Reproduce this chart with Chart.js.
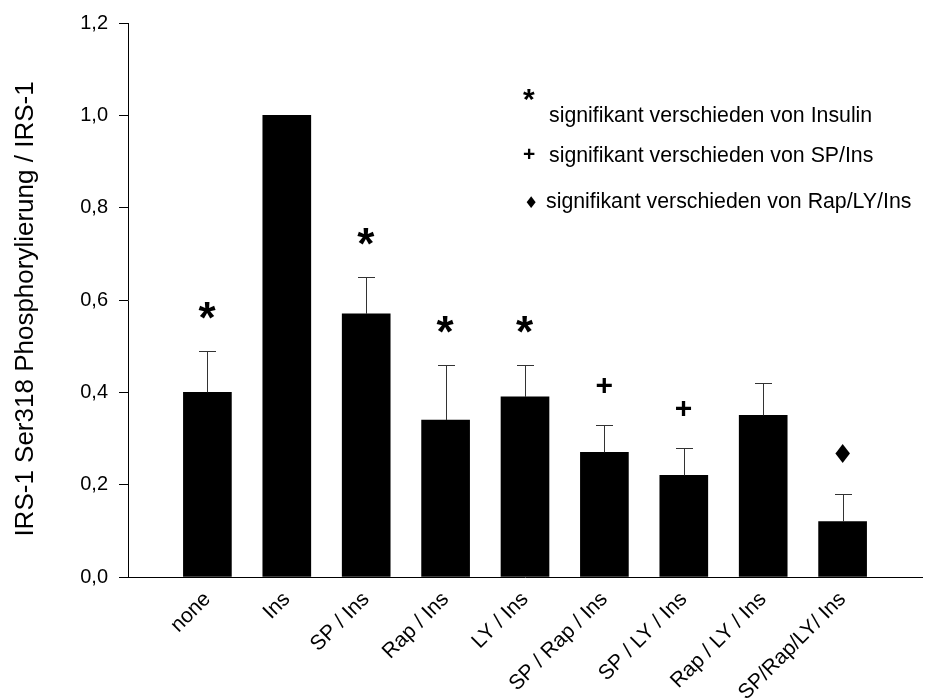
<!DOCTYPE html>
<html>
<head>
<meta charset="utf-8">
<script src="https://cdn.jsdelivr.net/npm/chart.js@4.4.0/dist/chart.umd.min.js"></script>
<style>
  body { margin: 0; background: #fff; }
  canvas { display: block; }
</style>
</head>
<body>
<canvas id="chart" width="926" height="700"></canvas>
<script>
// data
var categories = ['none', 'Ins', 'SP / Ins', 'Rap / Ins', 'LY / Ins', 'SP / Rap / Ins', 'SP / LY / Ins', 'Rap / LY / Ins', 'SP/Rap/LY/ Ins'];
var values = [0.40, 1.00, 0.57, 0.34, 0.39, 0.27, 0.22, 0.35, 0.12];
var errors = [0.09, 0, 0.08, 0.12, 0.07, 0.06, 0.06, 0.07, 0.06];
var marks = ['*', '', '*', '*', '*', '+', '+', '', '\u2666'];
var yTicks = [0, 0.2, 0.4, 0.6, 0.8, 1.0, 1.2];
var legendSymbols = ['*', '+', '\u2666'];
var legendTexts = ['signifikant verschieden von Insulin', 'signifikant verschieden von SP/Ins', 'signifikant verschieden von Rap/LY/Ins'];
var yTitle = 'IRS-1 Ser318 Phosphorylierung / IRS-1';

var FONT = '"Liberation Sans", Arial, sans-serif';

// draw a glyph centred on (x, y)
function centerText(ctx, txt, x, y, font) {
    ctx.font = font;
    var m = ctx.measureText(txt);
    var asc = m.actualBoundingBoxAscent, desc = m.actualBoundingBoxDescent;
    var l = m.actualBoundingBoxLeft, r = m.actualBoundingBoxRight;
    ctx.textAlign = 'left';
    ctx.textBaseline = 'alphabetic';
    ctx.fillText(txt, x - (r - l) / 2, y + (asc - desc) / 2);
}

function markFont(s) {
    if (s === '*') return 'bold 44px ' + FONT;
    if (s === '+') return 'bold 30px ' + FONT;
    return '26px "DejaVu Sans"';
}

var extras = {
    id: 'extras',
    afterDatasetsDraw: function(chart) {
        var ctx = chart.ctx;
        var xs = chart.scales.x, ys = chart.scales.y;
        ctx.save();
        // error bars (upper only)
        ctx.strokeStyle = '#333';
        ctx.lineWidth = 1;
        for (var i = 0; i < values.length; i++) {
            if (!errors[i]) continue;
            var cx = Math.round(xs.getPixelForValue(i + 1)) + 0.5;
            var yb = ys.getPixelForValue(values[i]);
            var yt = Math.round(ys.getPixelForValue(values[i] + errors[i])) + 0.5;
            ctx.beginPath();
            ctx.moveTo(cx, yb);
            ctx.lineTo(cx, yt);
            ctx.moveTo(cx - 8.5, yt);
            ctx.lineTo(cx + 8.5, yt);
            ctx.stroke();
        }
        // significance marks
        ctx.fillStyle = '#000';
        for (var j = 0; j < marks.length; j++) {
            if (!marks[j]) continue;
            var mx = xs.getPixelForValue(j + 1);
            var my = ys.getPixelForValue(values[j] + errors[j]) - 40;
            centerText(ctx, marks[j], mx, my, markFont(marks[j]));
        }
        ctx.restore();
    },
    afterDraw: function(chart) {
        var ctx = chart.ctx;
        ctx.save();
        ctx.fillStyle = '#000';
        // legend block
        var rows = [116, 156, 202];
        var symX = [529, 529, 531];
        var symY = [95, 159, 206];
        var symFonts = ['bold 30px ' + FONT, 'bold 21px ' + FONT, '16px "DejaVu Sans"'];
        var txtX = [549, 549, 546];
        for (var k = 0; k < legendTexts.length; k++) {
            centerText(ctx, legendSymbols[k], symX[k], symY[k], symFonts[k]);
            ctx.font = '21.3px ' + FONT;
            ctx.textAlign = 'left';
            ctx.textBaseline = 'middle';
            ctx.fillText(legendTexts[k], txtX[k], rows[k]);
        }
        // y axis title
        ctx.translate(26, 309);
        ctx.rotate(-Math.PI / 2);
        ctx.font = '26px ' + FONT;
        ctx.textAlign = 'center';
        ctx.textBaseline = 'middle';
        ctx.fillText(yTitle, 0, 0);
        ctx.restore();
    }
};

new Chart(document.getElementById('chart'), {
    type: 'bar',
    data: {
        datasets: [{
            data: values.map(function(v, i) { return {x: i + 1, y: v}; }),
            backgroundColor: '#000',
            borderWidth: 0,
            barThickness: 48
        }]
    },
    options: {
        responsive: false,
        animation: false,
        devicePixelRatio: 1,
        layout: { padding: { top: 20, right: 4, left: 0, bottom: 0 } },
        plugins: { legend: { display: false }, tooltip: { enabled: false } },
        scales: {
            x: {
                type: 'linear',
                offset: false,
                min: 0,
                max: 10,
                afterFit: function(s) {
                    s.height = 123;
                    s.paddingLeft = 0;
                    s.paddingRight = 0;
                },
                afterBuildTicks: function(s) {
                    s.ticks = [];
                    for (var i = 0; i <= 10; i++) s.ticks.push({value: i});
                },
                ticks: {
                    autoSkip: false,
                    maxRotation: 45,
                    minRotation: 45,
                    padding: 2,
                    color: '#000',
                    font: { family: FONT, size: 21 },
                    callback: function(v) { return categories[v - 1] || ''; }
                },
                grid: { display: false },
                border: { display: true, color: '#000', width: 1 }
            },
            y: {
                min: 0,
                max: 1.2,
                afterFit: function(s) { s.width = 128; },
                afterBuildTicks: function(s) {
                    s.ticks = yTicks.map(function(t) { return {value: t}; });
                },
                ticks: {
                    padding: 11,
                    color: '#000',
                    font: { family: FONT, size: 20 },
                    callback: function(v) { return v.toFixed(1).replace('.', ','); }
                },
                grid: { drawOnChartArea: false, drawTicks: true, tickLength: 9, color: '#000' },
                border: { display: true, color: '#000', width: 1 }
            }
        }
    },
    plugins: [extras]
});
</script>
</body>
</html>
